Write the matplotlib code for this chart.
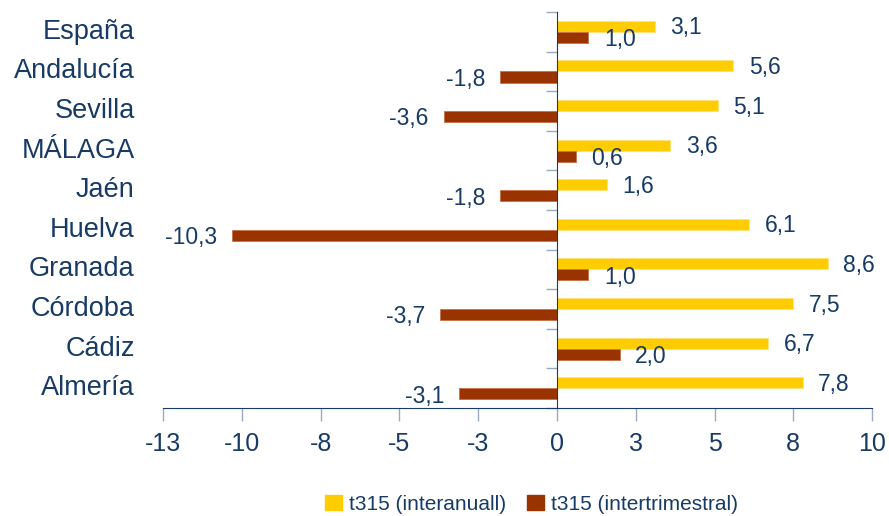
import numpy as np
import matplotlib
matplotlib.use('Agg')
import matplotlib.pyplot as plt
from matplotlib.patches import Patch

# datos
provincias = ['España', 'Andalucía', 'Sevilla', 'MÁLAGA', 'Jaén',
              'Huelva', 'Granada', 'Córdoba', 'Cádiz', 'Almería']
interanual = [3.1, 5.6, 5.1, 3.6, 1.6, 6.1, 8.6, 7.5, 6.7, 7.8]
intertrimestral = [1.0, -1.8, -3.6, 0.6, -1.8, -10.3, 1.0, -3.7, 2.0, -3.1]
xticks = [-12.5, -10, -7.5, -5, -2.5, 0, 2.5, 5, 7.5, 10]
xticklabels = ['-13', '-10', '-8', '-5', '-3', '0', '3', '5', '8', '10']
serie1 = 't315 (interanuall)'
serie2 = 't315 (intertrimestral)'

amarillo = '#FFCC00'
granate = '#993300'
azul = '#173a66'
gris = '#9aaabf'
fuente = ['Liberation Sans', 'DejaVu Sans']

fig = plt.figure(figsize=(8.89, 5.16), dpi=100)
ax = fig.add_axes([0.1834, 0.2093, 0.7976, 0.7674])

y = np.arange(len(provincias))
h = 0.28
ax.barh(y - 0.14, interanual, height=h, color=amarillo, edgecolor='#ffe27a', linewidth=0.6)
ax.barh(y + 0.14, intertrimestral, height=h, color=granate, edgecolor='#c8704a', linewidth=0.6)

for i in range(len(provincias)):
    for val, off in ((interanual[i], -0.10), (intertrimestral[i], 0.20)):
        s = ('%.1f' % val).replace('.', ',')
        ax.annotate(s, (val, i + off), xytext=(11 if val >= 0 else -11, 0),
                    textcoords='offset points', ha='left' if val >= 0 else 'right',
                    va='center', fontsize=16.5, color=azul, family=fuente)

ax.set_xlim(-12.5, 10)
ax.set_ylim(len(provincias) - 0.5, -0.5)

# eje vertical en el cero
ax.spines['left'].set_position(('data', 0))
ax.spines['left'].set_color(azul)
ax.spines['bottom'].set_color(azul)
ax.spines['top'].set_visible(False)
ax.spines['right'].set_visible(False)
ax.set_yticks(np.arange(len(provincias) + 1) - 0.5)
ax.set_yticklabels([])
ax.tick_params(axis='y', direction='out', length=8, color=gris, width=1)

ax.set_xticks(xticks)
ax.set_xticklabels(xticklabels, family=fuente, fontsize=18, color=azul)
ax.tick_params(axis='x', direction='out', length=9, color=gris, width=1, pad=8)

for i, p in enumerate(provincias):
    ax.text(-0.04, i, p, transform=ax.get_yaxis_transform(), ha='right', va='center',
            fontsize=19.5, color=azul, family=fuente)

handles = [Patch(color=amarillo), Patch(color=granate)]
leg = fig.legend(handles, [serie1, serie2], loc='center', bbox_to_anchor=(0.598, 0.023),
                 ncol=2, frameon=False, handlelength=0.8, handleheight=0.8,
                 handletextpad=0.35, columnspacing=1.0,
                 prop={'family': fuente, 'size': 15})
for t in leg.get_texts():
    t.set_color(azul)

fig.savefig('out.png', dpi=100)
